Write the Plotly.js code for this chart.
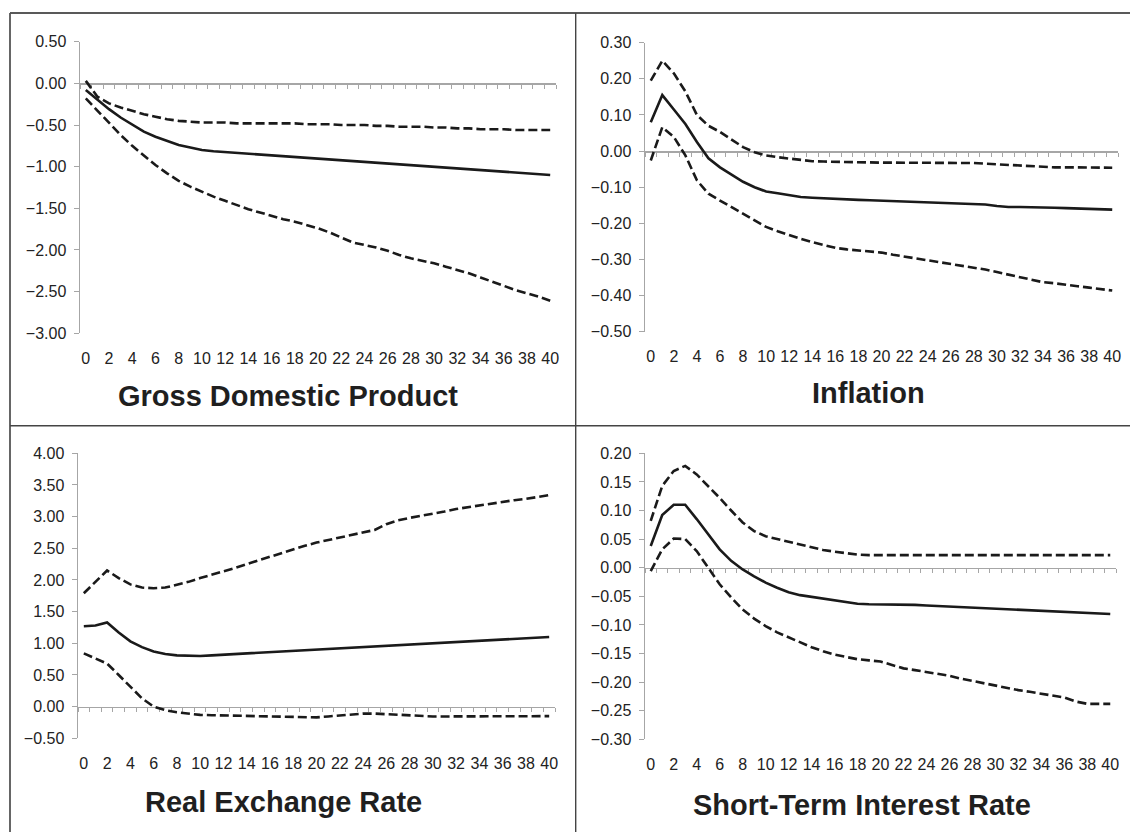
<!DOCTYPE html>
<html>
<head>
<meta charset="utf-8">
<script src="https://cdn.plot.ly/plotly-3.0.1.min.js"></script>
<style>html,body{margin:0;padding:0;background:#fff;}#chart{width:1130px;height:832px;}</style>
</head>
<body>
<div id="chart"></div>
<script>
// ---------- data ----------
const periods = [0,1,2,3,4,5,6,7,8,9,10,11,12,13,14,15,16,17,18,19,20,21,22,23,24,25,26,27,28,29,30,31,32,33,34,35,36,37,38,39,40];
const xTickValues = [0,2,4,6,8,10,12,14,16,18,20,22,24,26,28,30,32,34,36,38,40];
const xTickLabels = ['0','2','4','6','8','10','12','14','16','18','20','22','24','26','28','30','32','34','36','38','40'];
const panelTitles = ['Gross Domestic Product','Inflation','Real Exchange Rate','Short-Term Interest Rate'];

const gdpResponse = [-0.08,-0.20,-0.31,-0.41,-0.50,-0.58,-0.64,-0.69,-0.74,-0.77,-0.80,-0.815,-0.825,-0.835,-0.845,-0.855,-0.86,-0.87,-0.88,-0.89,-0.90,-0.91,-0.92,-0.93,-0.94,-0.95,-0.96,-0.97,-0.98,-0.99,-1.00,-1.01,-1.02,-1.03,-1.04,-1.05,-1.06,-1.07,-1.08,-1.09,-1.10];
const gdpUpper = [0.03,-0.16,-0.24,-0.29,-0.33,-0.37,-0.40,-0.43,-0.45,-0.46,-0.47,-0.47,-0.47,-0.48,-0.48,-0.48,-0.48,-0.48,-0.48,-0.49,-0.49,-0.49,-0.50,-0.50,-0.50,-0.51,-0.51,-0.52,-0.52,-0.52,-0.53,-0.53,-0.54,-0.54,-0.55,-0.55,-0.55,-0.56,-0.56,-0.56,-0.56];
const gdpLower = [-0.18,-0.33,-0.47,-0.62,-0.75,-0.87,-0.98,-1.08,-1.17,-1.24,-1.30,-1.36,-1.41,-1.46,-1.51,-1.55,-1.59,-1.63,-1.66,-1.70,-1.74,-1.79,-1.85,-1.91,-1.94,-1.97,-2.01,-2.06,-2.10,-2.13,-2.16,-2.20,-2.24,-2.28,-2.33,-2.38,-2.43,-2.48,-2.52,-2.56,-2.61];

const inflResponse = [0.08,0.155,0.115,0.075,0.025,-0.02,-0.045,-0.065,-0.085,-0.10,-0.112,-0.117,-0.122,-0.127,-0.129,-0.131,-0.133,-0.134,-0.135,-0.136,-0.137,-0.138,-0.139,-0.140,-0.141,-0.142,-0.143,-0.144,-0.145,-0.148,-0.152,-0.155,-0.155,-0.155,-0.155,-0.157,-0.158,-0.159,-0.160,-0.161,-0.162];
const inflUpper = [0.195,0.25,0.215,0.165,0.10,0.07,0.053,0.032,0.011,-0.003,-0.012,-0.017,-0.021,-0.025,-0.028,-0.029,-0.030,-0.030,-0.030,-0.031,-0.032,-0.032,-0.032,-0.032,-0.032,-0.032,-0.032,-0.032,-0.033,-0.035,-0.037,-0.039,-0.041,-0.043,-0.044,-0.045,-0.045,-0.045,-0.046,-0.046,-0.046];
const inflLower = [-0.026,0.066,0.039,-0.012,-0.081,-0.118,-0.137,-0.155,-0.173,-0.192,-0.21,-0.222,-0.233,-0.243,-0.252,-0.261,-0.268,-0.272,-0.275,-0.278,-0.281,-0.287,-0.292,-0.298,-0.303,-0.308,-0.313,-0.317,-0.321,-0.328,-0.335,-0.342,-0.349,-0.356,-0.363,-0.366,-0.369,-0.374,-0.378,-0.382,-0.386];

const rerResponse = [1.27,1.28,1.33,1.17,1.03,0.94,0.87,0.83,0.81,0.80,0.80,0.81,0.82,0.83,0.84,0.85,0.86,0.87,0.89,0.90,0.91,0.92,0.93,0.94,0.95,0.96,0.97,0.98,0.99,1.00,1.01,1.02,1.03,1.04,1.05,1.06,1.07,1.08,1.09,1.09,1.10];
const rerUpper = [1.79,1.97,2.15,2.03,1.93,1.88,1.87,1.88,1.92,1.97,2.03,2.08,2.13,2.19,2.25,2.31,2.37,2.43,2.48,2.54,2.59,2.63,2.67,2.71,2.74,2.79,2.88,2.94,2.98,3.01,3.04,3.08,3.12,3.15,3.18,3.21,3.23,3.26,3.28,3.31,3.34];
const rerLower = [0.84,0.76,0.68,0.50,0.31,0.13,0.00,-0.055,-0.09,-0.11,-0.13,-0.135,-0.14,-0.145,-0.15,-0.152,-0.155,-0.158,-0.16,-0.165,-0.17,-0.155,-0.14,-0.125,-0.11,-0.11,-0.12,-0.13,-0.14,-0.15,-0.155,-0.155,-0.155,-0.155,-0.155,-0.155,-0.155,-0.155,-0.155,-0.155,-0.15];

const stirResponse = [0.038,0.092,0.11,0.11,0.085,0.058,0.032,0.012,-0.003,-0.015,-0.026,-0.035,-0.043,-0.048,-0.051,-0.055,-0.058,-0.061,-0.063,-0.064,-0.064,-0.064,-0.065,-0.065,-0.066,-0.067,-0.068,-0.069,-0.070,-0.070,-0.071,-0.072,-0.073,-0.074,-0.075,-0.076,-0.077,-0.078,-0.079,-0.080,-0.081];
const stirUpper = [0.082,0.143,0.169,0.178,0.163,0.143,0.122,0.10,0.079,0.064,0.055,0.05,0.045,0.04,0.035,0.031,0.028,0.025,0.023,0.022,0.022,0.022,0.022,0.022,0.022,0.022,0.022,0.022,0.022,0.022,0.022,0.022,0.022,0.022,0.022,0.022,0.022,0.022,0.022,0.022,0.022];
const stirLower = [-0.006,0.032,0.051,0.05,0.029,0.0,-0.029,-0.052,-0.073,-0.089,-0.102,-0.113,-0.122,-0.131,-0.139,-0.146,-0.152,-0.156,-0.16,-0.162,-0.164,-0.17,-0.176,-0.179,-0.182,-0.185,-0.189,-0.194,-0.198,-0.203,-0.207,-0.21,-0.214,-0.217,-0.22,-0.223,-0.227,-0.234,-0.238,-0.238,-0.238];

// ---------- layout geometry ----------
const W = 1130, H = 832;
const fx = px => px / W;
const fy = py => 1 - py / H;

const panels = [
  {x0:80,  x1:556,  yt:41.7,  yb:333.3, range:[-3,0.5],   dtick:0.5,  tx:288, ty:396, title:panelTitles[0], series:[gdpUpper, gdpResponse, gdpLower]},
  {x0:645, x1:1118, yt:42.7,  yb:331.7, range:[-0.5,0.3], dtick:0.1,  tx:868, ty:393, title:panelTitles[1], series:[inflUpper, inflResponse, inflLower]},
  {x0:78,  x1:555,  yt:453.3, yb:738.3, range:[-0.5,4],   dtick:0.5,  tx:283, ty:802, title:panelTitles[2], series:[rerUpper, rerResponse, rerLower]},
  {x0:645, x1:1116, yt:453.3, yb:739.3, range:[-0.3,0.2], dtick:0.05, tx:862, ty:805, title:panelTitles[3], series:[stirUpper, stirResponse, stirLower]}
];

const FONT = 'Liberation Sans, Arial, Helvetica, sans-serif';
const AXIS_GRAY = '#a6a6a6';
const LINE_COLOR = '#1a1a1a';

const boundaryTicks = [];
for (let k = 0; k <= 41; k++) boundaryTicks.push(k - 0.5);

const traces = [];
const layout = {
  width: W, height: H,
  margin: {l:0, r:0, t:0, b:0},
  paper_bgcolor: '#ffffff',
  plot_bgcolor: 'rgba(0,0,0,0)',
  showlegend: false,
  annotations: [],
  shapes: []
};

panels.forEach((p, i) => {
  const n = i + 1;
  const lab = i + 5;
  const ydom = [fy(p.yb), fy(p.yt)];
  const xdom = [fx(p.x0), fx(p.x1)];
  const zeroPos = ydom[0] + (0 - p.range[0]) / (p.range[1] - p.range[0]) * (ydom[1] - ydom[0]);

  // base x axis: sits at y = 0 with category-boundary tick marks
  layout['xaxis' + n] = {
    domain: xdom, range: [-0.5, 40.5], anchor: 'free', position: zeroPos,
    showline: true, linecolor: AXIS_GRAY, linewidth: 1.5,
    ticks: 'outside', ticklen: 4, tickwidth: 1, tickcolor: AXIS_GRAY,
    tickmode: 'array', tickvals: boundaryTicks, showticklabels: false,
    showgrid: false, zeroline: false, layer: 'below traces', fixedrange: true
  };
  // label x axis at the bottom of the plot area
  layout['xaxis' + lab] = {
    overlaying: 'x' + n, anchor: 'y' + n, side: 'bottom', range: [-0.5, 40.5],
    showline: false, ticks: 'outside', ticklen: 10, tickcolor: 'rgba(0,0,0,0)',
    tickmode: 'array', tickvals: xTickValues, ticktext: xTickLabels,
    tickfont: {family: FONT, size: 16, color: '#222'},
    showgrid: false, zeroline: false, fixedrange: true
  };
  layout['yaxis' + n] = {
    domain: ydom, range: p.range, anchor: 'x' + n,
    showline: true, linecolor: AXIS_GRAY, linewidth: 1.5,
    ticks: 'outside', ticklen: 5, tickwidth: 1, tickcolor: AXIS_GRAY,
    tick0: 0, dtick: p.dtick, tickformat: '.2f',
    tickfont: {family: FONT, size: 16, color: '#222'},
    ticklabelstandoff: 4,
    showgrid: false, zeroline: false, fixedrange: true
  };

  const styles = [
    {color: LINE_COLOR, width: 2.6, dash: '9px,4px'},
    {color: LINE_COLOR, width: 2.6, dash: 'solid'},
    {color: LINE_COLOR, width: 2.6, dash: '9px,4px'}
  ];
  p.series.forEach((s, j) => {
    traces.push({
      type: 'scatter', mode: 'lines', x: periods, y: s,
      xaxis: 'x' + n, yaxis: 'y' + n,
      line: styles[j], hoverinfo: 'skip', showlegend: false
    });
  });
  // invisible trace so the label axis is drawn
  traces.push({
    type: 'scatter', mode: 'markers', x: [periods[0]], y: [p.series[1][0]],
    xaxis: 'x' + lab, yaxis: 'y' + n,
    marker: {opacity: 0}, hoverinfo: 'skip', showlegend: false
  });

  layout.annotations.push({
    xref: 'paper', yref: 'paper', x: fx(p.tx), y: fy(p.ty),
    xanchor: 'center', yanchor: 'middle', showarrow: false,
    text: p.title,
    font: {family: FONT, size: 29, weight: 'bold', color: '#1f1f1f'}
  });
});

// panel frame lines
const frame = [
  {x0:10, y0:13, x1:1130, y1:13, c:'#222', w:1.6},
  {x0:10, y0:13, x1:10, y1:832, c:'#555', w:1.8},
  {x0:575.7, y0:13, x1:575.7, y1:832, c:'#444', w:1.4},
  {x0:10, y0:425.7, x1:1130, y1:425.7, c:'#444', w:1.4}
];
frame.forEach(f => layout.shapes.push({
  type: 'line', xref: 'paper', yref: 'paper',
  x0: fx(f.x0), y0: fy(f.y0), x1: fx(f.x1), y1: fy(f.y1),
  line: {color: f.c, width: f.w}
}));

Plotly.newPlot('chart', traces, layout, {staticPlot: true, displayModeBar: false});
</script>
</body>
</html>
